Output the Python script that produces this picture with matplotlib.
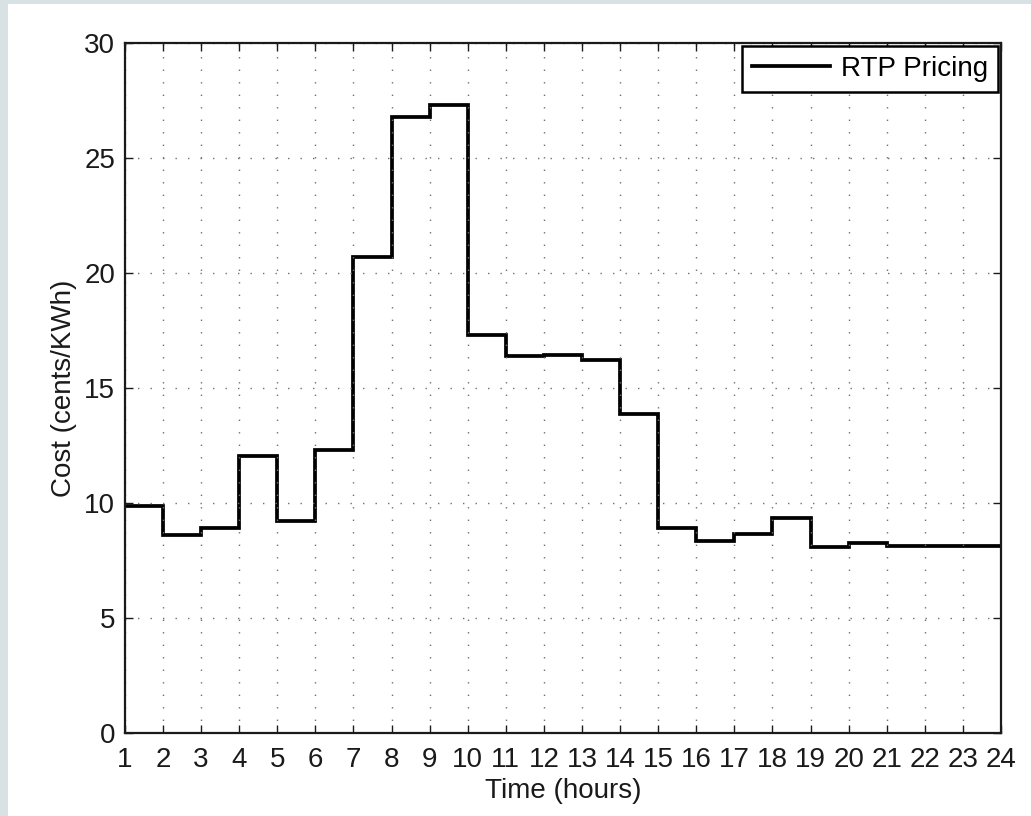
import matplotlib.pyplot as plt
from matplotlib.patches import Rectangle

# RTP price per hour (value held from hour h to h+1)
hour_edges = list(range(1, 25))
rtp_cost = [9.85, 8.6, 8.9, 12.05, 9.2, 12.3, 20.7, 26.8, 27.3, 17.3,
            16.4, 16.45, 16.2, 13.85, 8.9, 8.35, 8.65, 9.35, 8.1, 8.25,
            8.15, 8.15, 8.15]
y_ticks = [0, 5, 10, 15, 20, 25, 30]

plt.rcParams["font.family"] = ["Liberation Sans", "DejaVu Sans"]
fs = 20

fig = plt.figure(figsize=(10.31, 8.16), dpi=100)
fig.patch.set_facecolor("white")
# light grey frame on the left and top of the picture
fig.patches.append(Rectangle((0, 0), 8 / 1031, 1, transform=fig.transFigure,
                             facecolor="#d8e1e3", edgecolor="none"))
fig.patches.append(Rectangle((0, 1 - 4 / 816), 1, 4 / 816, transform=fig.transFigure,
                             facecolor="#d8e1e3", edgecolor="none"))

ax = fig.add_axes([0.1212, 0.1017, 0.8497, 0.8456])
ax.stairs(rtp_cost, hour_edges, color="black", linewidth=2.7, label="RTP Pricing",
          baseline=None)

ax.set_xlim(1, 24)
ax.set_ylim(0, 30)
ax.set_xticks(hour_edges)
ax.set_yticks(y_ticks)
ax.tick_params(direction="in", length=6, width=1.0, top=True, right=True,
               labelsize=fs, colors="#1a1a1a")
ax.tick_params(axis="x", pad=10)
ax.tick_params(axis="y", pad=7)
ax.grid(True, color="#707070", linewidth=1.0, linestyle=(0, (1, 8)))
for s in ax.spines.values():
    s.set_linewidth(1.6)
    s.set_color("#1a1a1a")

ax.set_xlabel("Time (hours)", fontsize=fs, labelpad=4, color="#1a1a1a")
ax.set_ylabel("Cost (cents/KWh)", fontsize=fs, labelpad=5, color="#1a1a1a")

leg = ax.legend(loc="upper right", fontsize=fs, fancybox=False, framealpha=1,
                edgecolor="black", handlelength=2.8, borderaxespad=0.12,
                borderpad=0.35, handletextpad=0.4)
leg.get_frame().set_linewidth(1.8)

fig.savefig("out.png", dpi=100)
